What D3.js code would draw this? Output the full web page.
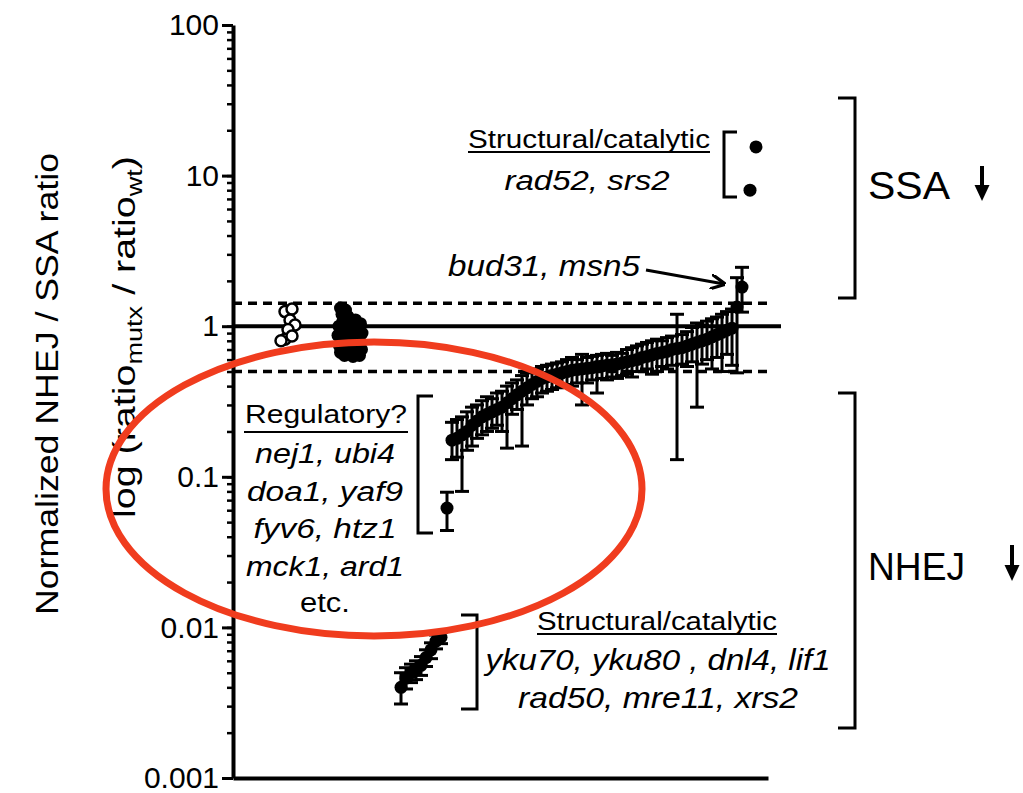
<!DOCTYPE html>
<html>
<head>
<meta charset="utf-8">
<script src="https://cdn.jsdelivr.net/npm/d3@7"></script>
<style>
  body { margin: 0; background: #fff; }
  svg { display: block; font-family: 'Liberation Sans', Arial, sans-serif; }
</style>
</head>
<body>
<svg class="chart" width="1023" height="793"></svg>
<script>
// wild-type repeats (open circles): [rank, ratio]
const wtPoints = [
  [10.4, 1.25], [11.8, 1.30], [11.4, 1.10], [12.4, 1.02],
  [11.0, 0.95], [10.4, 0.82], [11.8, 0.86], [9.6, 0.80],
];
// control strains (filled cluster): [rank, ratio]
const ctrlPoints = [
  [21.5, 1.32], [22.5, 1.28], [21.8, 1.20], [23.0, 1.16], [22.0, 1.08],
  [24.5, 1.10], [25.5, 1.04], [21.2, 1.00], [23.5, 1.00], [25.0, 0.97],
  [22.3, 0.93], [24.0, 0.92], [25.8, 0.90], [21.0, 0.87], [23.0, 0.86],
  [24.8, 0.84], [22.0, 0.80], [25.5, 0.78], [23.8, 0.78], [21.3, 0.74],
  [22.8, 0.72], [24.5, 0.71], [25.7, 0.70], [21.5, 0.67], [23.2, 0.66],
  [24.8, 0.65], [22.3, 0.64], [24.0, 0.63], [25.3, 0.64], [21.8, 0.70],
];
// NHEJ structural mutants, sorted: [ratio, lower, upper]
const nhejCorePoints = [
  [0.0040, 0.0031, 0.0050], [0.0046, 0.0039, 0.0054], [0.0050, 0.0043, 0.0057],
  [0.0052, 0.0045, 0.0060], [0.0056, 0.0048, 0.0064], [0.0063, 0.0055, 0.0071],
  [0.0071, 0.0062, 0.0079], [0.0081, 0.0072, 0.0089], [0.0086, 0.0078, 0.0093],
];
// remaining mutants, sorted: [ratio, lower, upper]
const mutantPoints = [
  [0.062, 0.044, 0.079], [0.175, 0.13, 0.23], [0.18, 0.135, 0.24], [0.19, 0.08, 0.25],
  [0.20, 0.15, 0.27], [0.22, 0.16, 0.29], [0.235, 0.18, 0.30], [0.25, 0.19, 0.32],
  [0.26, 0.20, 0.34], [0.27, 0.21, 0.33], [0.28, 0.22, 0.36], [0.29, 0.20, 0.37],
  [0.31, 0.155, 0.40], [0.33, 0.26, 0.42], [0.35, 0.28, 0.44], [0.37, 0.16, 0.47],
  [0.39, 0.30, 0.49], [0.41, 0.33, 0.50], [0.43, 0.34, 0.52], [0.45, 0.36, 0.54],
  [0.46, 0.37, 0.55], [0.47, 0.38, 0.56], [0.48, 0.39, 0.57], [0.49, 0.40, 0.58],
  [0.50, 0.41, 0.60], [0.51, 0.40, 0.62], [0.515, 0.42, 0.60], [0.52, 0.30, 0.65],
  [0.525, 0.42, 0.62], [0.53, 0.44, 0.63], [0.54, 0.36, 0.64], [0.545, 0.45, 0.65],
  [0.55, 0.44, 0.66], [0.555, 0.46, 0.64], [0.56, 0.45, 0.67], [0.57, 0.47, 0.66],
  [0.58, 0.48, 0.70], [0.59, 0.46, 0.72], [0.60, 0.50, 0.74], [0.62, 0.50, 0.76],
  [0.63, 0.52, 0.78], [0.645, 0.48, 0.80], [0.66, 0.50, 0.82], [0.67, 0.54, 0.80],
  [0.68, 0.52, 0.84], [0.70, 0.55, 0.86], [0.71, 0.13, 1.20], [0.72, 0.56, 0.88],
  [0.74, 0.54, 0.92], [0.76, 0.58, 0.98], [0.78, 0.29, 1.05], [0.80, 0.56, 1.02],
  [0.82, 0.60, 1.08], [0.85, 0.52, 1.12], [0.88, 0.62, 1.15], [0.91, 0.50, 1.20],
  [0.94, 0.65, 1.25], [0.97, 0.55, 1.30], [1.34, 0.49, 2.10], [1.82, 1.24, 2.46],
];
// SSA structural mutants: [rank, ratio]
const ssaCorePoints = [[104.6, 15.5], [103.4, 8.0]];
const nhejCoreStart = 33.6;
const mutantStart = 42.8;

const yTicks = [0.001, 0.01, 0.1, 1, 10, 100];
const cutoffs = [1.42, 0.5];

const ssaGenes = ['rad52, srs2'];
const outlierGenes = 'bud31, msn5';
const regulatoryGenes = ['nej1, ubi4', 'doa1, yaf9', 'fyv6, htz1', 'mck1, ard1'];
const nhejGenes = ['yku70, yku80 , dnl4, lif1', 'rad50, mre11, xrs2'];

const svg = d3.select('.chart');
const x = d3.scaleLinear().domain([0, 107]).range([233, 768]);
const y = d3.scaleLog().domain([0.001, 100]).range([778, 25]);

const addText = (str, cx, base, width, size, italic, anchor = 'middle') => svg.append('text')
  .attr('x', cx)
  .attr('y', base)
  .attr('text-anchor', anchor)
  .attr('font-size', size)
  .attr('font-style', italic ? 'italic' : 'normal')
  .attr('textLength', width)
  .attr('lengthAdjust', 'spacingAndGlyphs')
  .text(str);

const addPath = (d, w = 3) => svg.append('path')
  .attr('d', d)
  .attr('fill', 'none')
  .attr('stroke', '#000')
  .attr('stroke-width', w);

// reference lines
svg.append('line')
  .attr('x1', x(0)).attr('x2', 781)
  .attr('y1', y(1)).attr('y2', y(1))
  .attr('stroke', '#000').attr('stroke-width', 4);
svg.selectAll('.cutoff')
  .data(cutoffs)
  .enter()
  .append('line')
  .attr('x1', x(0)).attr('x2', 773)
  .attr('y1', d => y(d)).attr('y2', d => y(d))
  .attr('stroke', '#000').attr('stroke-width', 3.5)
  .attr('stroke-dasharray', '9,6');

// axes
const minor = svg.append('g')
  .attr('transform', `translate(${x(0)},0)`)
  .call(d3.axisLeft(y).tickValues(y.ticks()).tickSize(6).tickFormat(''));
minor.select('.domain').remove();
minor.selectAll('line').attr('stroke-width', 2.5);

const major = svg.append('g')
  .attr('transform', `translate(${x(0)},0)`)
  .call(d3.axisLeft(y).tickValues(yTicks).tickSize(11).tickSizeOuter(0).tickPadding(3)
    .tickFormat(d => String(d)));
major.select('.domain').attr('stroke-width', 4);
major.selectAll('line').attr('stroke-width', 3);
major.selectAll('text')
  .attr('font-size', 30)
  .attr('font-family', "'Liberation Sans', Arial, sans-serif")
  .attr('fill', '#000');

const bottom = svg.append('g')
  .attr('transform', `translate(0,${y(0.001)})`)
  .call(d3.axisBottom(x).tickValues([]).tickSizeOuter(0));
bottom.select('.domain').attr('stroke-width', 4);

// axis titles
svg.append('text')
  .attr('transform', 'translate(58,384) rotate(-90)')
  .attr('text-anchor', 'middle')
  .attr('font-size', 32)
  .attr('textLength', 462)
  .attr('lengthAdjust', 'spacingAndGlyphs')
  .text('Normalized NHEJ / SSA ratio');

const t2 = svg.append('text')
  .attr('transform', 'translate(135,337) rotate(-90)')
  .attr('text-anchor', 'middle')
  .attr('font-size', 32)
  .attr('textLength', 362)
  .attr('lengthAdjust', 'spacingAndGlyphs');
t2.append('tspan').text('log (ratio');
t2.append('tspan').attr('font-size', 22).attr('dy', 7).text('mutx');
t2.append('tspan').attr('dy', -7).text(' / ratio');
t2.append('tspan').attr('font-size', 22).attr('dy', 7).text('wt');
t2.append('tspan').attr('dy', -7).text(')');

// error bars
const drawBars = (data, start, cls) => {
  const g = svg.append('g').attr('class', cls);
  const bars = g.selectAll('g').data(data).enter().append('g');
  bars.append('line')
    .attr('x1', (d, i) => x(start + i)).attr('x2', (d, i) => x(start + i))
    .attr('y1', d => y(d[1])).attr('y2', d => y(d[2]));
  [1, 2].forEach(k => bars.append('line')
    .attr('x1', (d, i) => x(start + i) - 7).attr('x2', (d, i) => x(start + i) + 7)
    .attr('y1', d => y(d[k])).attr('y2', d => y(d[k])));
  g.selectAll('line').attr('stroke', '#000').attr('stroke-width', 3);
  g.selectAll('circle').data(data).enter().append('circle')
    .attr('cx', (d, i) => x(start + i))
    .attr('cy', d => y(d[0]))
    .attr('r', 6.5)
    .attr('fill', '#000');
};
drawBars(nhejCorePoints, nhejCoreStart, 'nhej-core');
drawBars(mutantPoints, mutantStart, 'mutants');

svg.selectAll('.ctrl').data(ctrlPoints).enter().append('circle')
  .attr('cx', d => x(d[0])).attr('cy', d => y(d[1]))
  .attr('r', 6.5).attr('fill', '#000');
svg.selectAll('.wt').data(wtPoints).enter().append('circle')
  .attr('cx', d => x(d[0])).attr('cy', d => y(d[1]))
  .attr('r', 5.5).attr('fill', '#fff').attr('stroke', '#000').attr('stroke-width', 2.5);
svg.selectAll('.ssa').data(ssaCorePoints).enter().append('circle')
  .attr('cx', d => x(d[0])).attr('cy', d => y(d[1]))
  .attr('r', 6.5).attr('fill', '#000');

// annotations
addText('Structural/catalytic', 589, 148, 242, 25, false);
addPath('M468,152H710', 2);
addText(ssaGenes[0], 587, 190, 165, 27, true);
addPath('M737,132H724V197H737');
addText(outlierGenes, 544, 276, 192, 29, true);
svg.append('defs').append('marker')
  .attr('id', 'head').attr('viewBox', '0 0 10 10').attr('refX', 9).attr('refY', 5)
  .attr('markerWidth', 5).attr('markerHeight', 5).attr('orient', 'auto')
  .append('path').attr('d', 'M0,0L10,5L0,10').attr('fill', 'none').attr('stroke', '#000').attr('stroke-width', 2.2);
addPath('M646,270L724,284').attr('marker-end', 'url(#head)');

addText('Regulatory?', 326, 423, 162, 26, false);
addPath('M244,432H408', 2);
regulatoryGenes.forEach((g, i) => addText(g, 325, 463 + i * 37.5, [140, 156, 143, 158][i], 27, true));
addText('etc.', 325, 612, 50, 27, false);
addPath('M433,396H418V533H433');

addText('Structural/catalytic', 657, 630, 240, 26, false);
addPath('M537,634H777', 2);
nhejGenes.forEach((g, i) => addText(g, 658, 670 + i * 38, [345, 280][i], 29, true));
addPath('M461,615H477V709H461');

// group brackets on the right
addPath('M838,98H855V298H838');
addPath('M838,393H855V728H838');
addText('SSA', 868, 199, 82, 38, false, 'start');
addText('NHEJ', 868, 580, 97, 38, false, 'start');
const downArrow = (ax, top, tip) => {
  addPath(`M${ax},${top}V${tip - 12}`, 4);
  svg.append('path').attr('d', `M${ax - 7.5},${tip - 16}L${ax + 7.5},${tip - 16}L${ax},${tip}Z`).attr('fill', '#000');
};
downArrow(982, 166, 201);
downArrow(1012, 545, 581);

// highlight ellipse
svg.append('ellipse')
  .attr('cx', 374).attr('cy', 489).attr('rx', 268).attr('ry', 147)
  .attr('fill', 'none').attr('stroke', '#f03c1e').attr('stroke-width', 7);
</script>
</body>
</html>
